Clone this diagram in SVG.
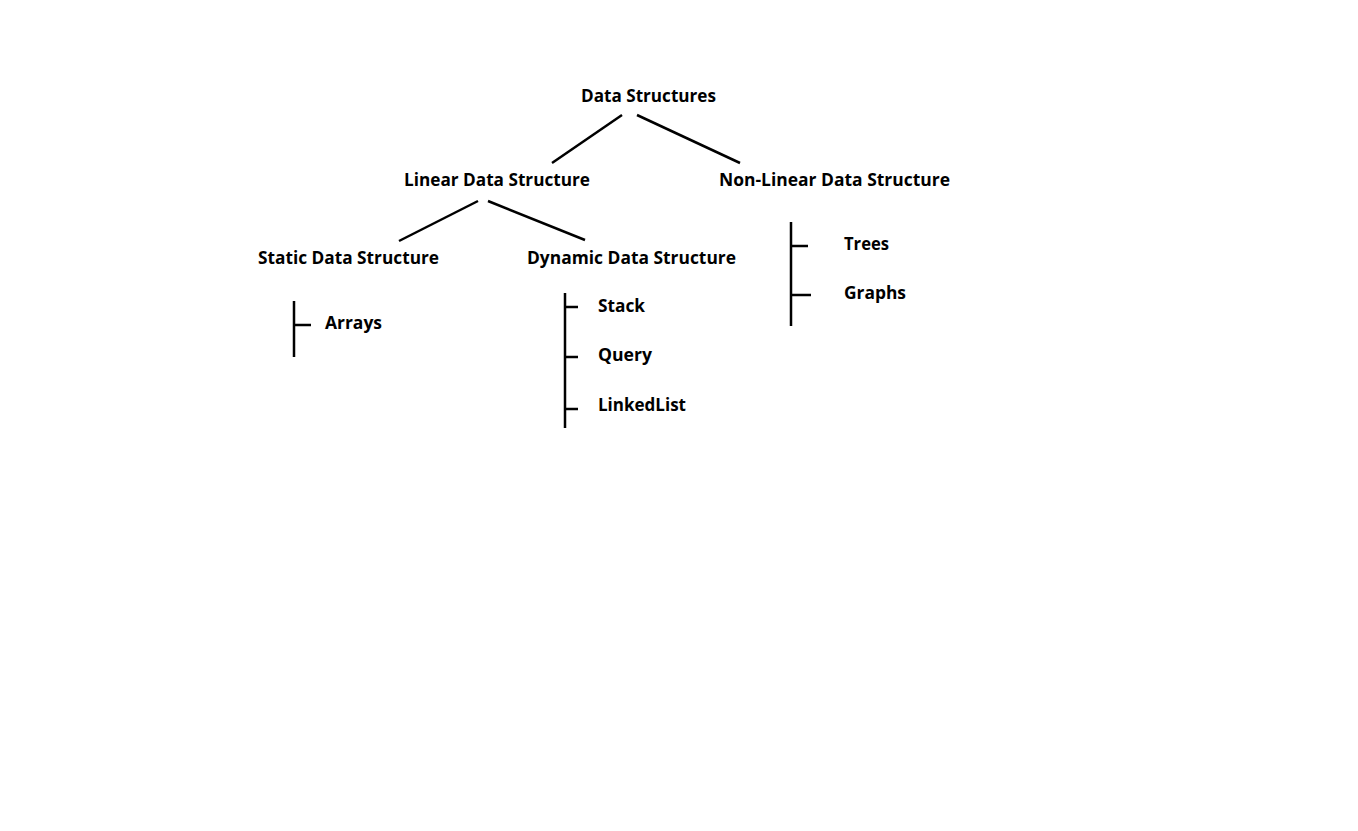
<svg xmlns="http://www.w3.org/2000/svg" width="1358" height="831" viewBox="0 0 1358 831">
<style>
text{font-family:"Open Sans","Noto Sans","Liberation Sans",sans-serif;font-weight:bold;font-size:17px;fill:#000}
.c{stroke:#000;stroke-width:2.5;fill:none}
</style>
<rect width="1358" height="831" fill="#fff"/>
<g id="connectors">
<line class="c" x1="622" y1="115" x2="552" y2="163"/>
<line class="c" x1="637" y1="115" x2="740" y2="163"/>
<line class="c" x1="478" y1="201" x2="399" y2="241"/>
<line class="c" x1="488" y1="201" x2="585" y2="240"/>
<path class="c" d="M294 301V357M294 325H311"/>
<path class="c" d="M565 293V428M565 307H578M565 357H578M565 409H578"/>
<path class="c" d="M791 222V326M791 246H808M791 295H811"/>
</g>
<g id="n-root"><text x="581" y="102" textLength="135" lengthAdjust="spacingAndGlyphs">Data Structures</text></g>
<g id="n-linear"><text x="404" y="186" textLength="186" lengthAdjust="spacingAndGlyphs">Linear Data Structure</text></g>
<g id="n-nonlinear"><text x="719" y="186" textLength="231" lengthAdjust="spacingAndGlyphs">Non-Linear Data Structure</text></g>
<g id="n-static"><text x="258" y="264" textLength="181" lengthAdjust="spacingAndGlyphs">Static Data Structure</text></g>
<g id="n-dynamic"><text x="527" y="264" textLength="209" lengthAdjust="spacingAndGlyphs">Dynamic Data Structure</text></g>
<g id="n-arrays"><text x="325" y="329" textLength="57" lengthAdjust="spacingAndGlyphs">Arrays</text></g>
<g id="n-stack"><text x="598" y="312" textLength="47" lengthAdjust="spacingAndGlyphs">Stack</text></g>
<g id="n-query"><text x="598" y="361" textLength="54" lengthAdjust="spacingAndGlyphs">Query</text></g>
<g id="n-linkedlist"><text x="598" y="411" textLength="88" lengthAdjust="spacingAndGlyphs">LinkedList</text></g>
<g id="n-trees"><text x="844" y="250" textLength="45" lengthAdjust="spacingAndGlyphs">Trees</text></g>
<g id="n-graphs"><text x="844" y="299" textLength="62" lengthAdjust="spacingAndGlyphs">Graphs</text></g>
</svg>
